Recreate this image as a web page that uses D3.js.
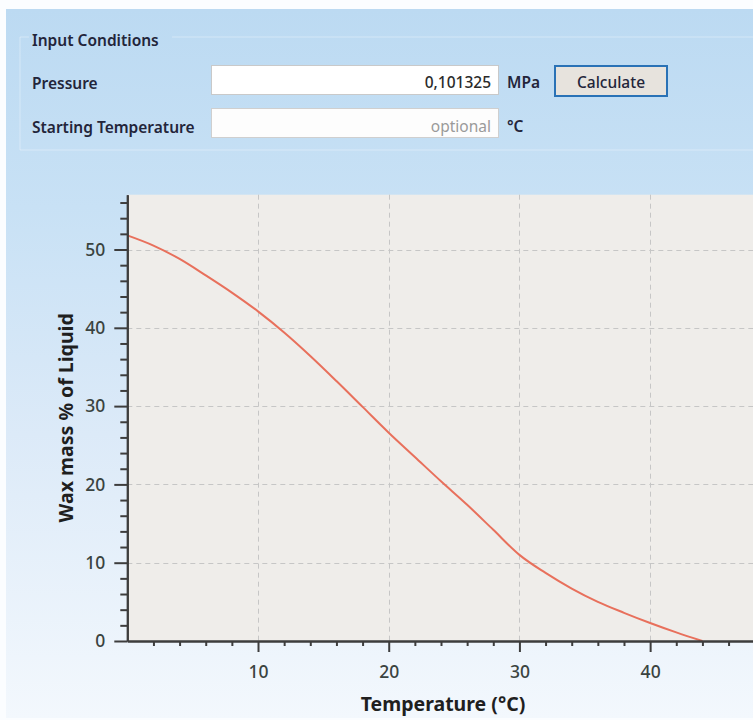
<!DOCTYPE html>
<html>
<head>
<meta charset="utf-8">
<script src="https://cdn.jsdelivr.net/npm/d3@7"></script>
<style>
  html, body { margin: 0; padding: 0; background: #ffffff; }
  svg { display: block; }
</style>
</head>
<body>
<svg id="chart" width="753" height="720"></svg>
<script>
// Wax precipitation curve: wax mass fraction of the liquid vs. temperature
const temperatures = [0, 2, 4, 6, 8, 10, 12, 14, 16, 18, 20, 22, 24, 26, 28, 30, 32, 34, 36, 38, 40, 42, 44];
const waxMass      = [51.8, 50.5, 48.8, 46.7, 44.5, 42.1, 39.4, 36.4, 33.2, 29.9, 26.6, 23.5, 20.4, 17.4, 14.2, 11.0, 8.7, 6.7, 5.0, 3.6, 2.3, 1.1, 0.0];
const xMajorTicks  = [10, 20, 30, 40];
const yMajorTicks  = [0, 10, 20, 30, 40, 50];
const xMinorTicks  = [2, 4, 6, 8, 12, 14, 16, 18, 22, 24, 26, 28, 32, 34, 36, 38, 42, 44, 46];
const yMinorTicks  = [2, 4, 6, 8, 12, 14, 16, 18, 22, 24, 26, 28, 32, 34, 36, 38, 42, 44, 46, 48, 52, 54, 56];

const xTitle = "Temperature (°C)";
const yTitle = "Wax mass % of Liquid";

const FONT = "'Noto Sans', 'Open Sans', sans-serif";
const svg = d3.select("#chart");
const defs = svg.append("defs");

// ---------- window background ----------
const bg = defs.append("linearGradient").attr("id", "winBg")
  .attr("x1", 0).attr("y1", 0).attr("x2", 0).attr("y2", 1);
[[0, "#bcdaf2"], [0.28, "#c8e1f5"], [0.6, "#dceaf8"], [1, "#f3f8fd"]].forEach(([o, c]) =>
  bg.append("stop").attr("offset", o).attr("stop-color", c));

svg.append("rect").attr("x", 0).attr("y", 0).attr("width", 753).attr("height", 720).attr("fill", "#fbfdff");
svg.append("rect").attr("x", 6).attr("y", 9).attr("width", 747).attr("height", 709).attr("fill", "url(#winBg)");

// ---------- input form ----------
const form = svg.append("g").attr("font-family", FONT);
const LABEL = "#23253a";

// group box outline
form.append("path")
  .attr("d", "M29,37 H20 V150 H760 M172,37 H760")
  .attr("fill", "none").attr("stroke", "rgba(255,255,255,0.35)").attr("stroke-width", 1);

function label(txt, xPos, yPos, opts = {}) {
  return form.append("text").attr("x", xPos).attr("y", yPos)
    .attr("font-size", opts.size || 15.5)
    .attr("font-weight", opts.weight || 600)
    .attr("fill", opts.fill || LABEL)
    .attr("text-anchor", opts.anchor || "start")
    .text(txt);
}

label("Input Conditions", 32, 46);
label("Pressure", 32, 89);
label("Starting Temperature", 32, 133);

// text boxes
form.append("rect").attr("x", 211.5).attr("y", 65.5).attr("width", 287).attr("height", 29)
  .attr("fill", "#ffffff").attr("stroke", "#c9c9c9");
form.append("rect").attr("x", 211.5).attr("y", 108.5).attr("width", 287).attr("height", 29)
  .attr("fill", "#fdfdfd").attr("stroke", "#cfcfcf");

label("0,101325", 491, 88, { anchor: "end", weight: 500, fill: "#2a2a2a" });
label("optional", 491, 132, { anchor: "end", weight: 400, fill: "#9a9a9a" });
label("MPa", 507, 88);
label("°C", 507, 132);

// button
form.append("rect").attr("x", 555).attr("y", 66).attr("width", 112).attr("height", 30)
  .attr("fill", "#e7e3dd").attr("stroke", "#2a72b6").attr("stroke-width", 2);
label("Calculate", 611, 88, { anchor: "middle", weight: 500 });

// ---------- chart ----------
const plot = { left: 127.3, top: 194.7, bottom: 641, right: 754.7 };

const x = d3.scaleLinear().domain([0, 48]).range([plot.left, plot.right]);
const y = d3.scaleLinear().domain([0, 57]).range([plot.bottom, plot.top]);

const chart = svg.append("g");

chart.append("rect")
  .attr("x", plot.left).attr("y", plot.top)
  .attr("width", plot.right - plot.left).attr("height", plot.bottom - plot.top)
  .attr("fill", "#efedea");

// dashed grid at major ticks
const grid = chart.append("g").attr("stroke", "#c6c6c6").attr("stroke-width", 1)
  .attr("stroke-dasharray", "5,4").attr("fill", "none");
grid.selectAll("line.vx").data(xMajorTicks).join("line")
  .attr("x1", d => Math.round(x(d)) + 0.5).attr("x2", d => Math.round(x(d)) + 0.5)
  .attr("y1", plot.top).attr("y2", plot.bottom);
grid.selectAll("line.hy").data(yMajorTicks.filter(d => d > 0)).join("line")
  .attr("x1", plot.left).attr("x2", plot.right)
  .attr("y1", d => Math.round(y(d)) + 0.5).attr("y2", d => Math.round(y(d)) + 0.5);

// curve
const line = d3.line()
  .x((d, i) => x(temperatures[i]))
  .y(d => y(d))
  .curve(d3.curveMonotoneX);
chart.append("path")
  .datum(waxMass)
  .attr("d", line)
  .attr("fill", "none")
  .attr("stroke", "#e8705c")
  .attr("stroke-width", 2);

// axes
const AXIS = "#3d3d3d";
function styleAxis(g) {
  g.select(".domain").attr("stroke", AXIS).attr("stroke-width", 2);
  g.selectAll(".tick line").attr("stroke", AXIS).attr("stroke-width", 2);
  g.selectAll(".tick text").attr("fill", "#3a4340")
    .attr("font-family", FONT).attr("font-size", 17.5).attr("font-weight", 500);
}

// minor ticks
chart.append("g")
  .attr("transform", `translate(0,${plot.bottom})`)
  .call(d3.axisBottom(x).tickValues(xMinorTicks).tickSize(5).tickSizeOuter(0).tickFormat(""))
  .call(styleAxis);
chart.append("g")
  .attr("transform", `translate(${plot.left},0)`)
  .call(d3.axisLeft(y).tickValues(yMinorTicks).tickSize(7).tickSizeOuter(0).tickFormat(""))
  .call(styleAxis);

// major ticks with labels
chart.append("g")
  .attr("transform", `translate(0,${plot.bottom})`)
  .call(d3.axisBottom(x).tickValues(xMajorTicks).tickSize(11).tickSizeOuter(0).tickPadding(14).tickFormat(d3.format("d")))
  .call(styleAxis);
chart.append("g")
  .attr("transform", `translate(${plot.left},0)`)
  .call(d3.axisLeft(y).tickValues(yMajorTicks).tickSize(13).tickSizeOuter(0).tickPadding(9).tickFormat(d3.format("d")))
  .call(styleAxis);

// axis titles
chart.append("text")
  .attr("x", 443).attr("y", 711)
  .attr("text-anchor", "middle")
  .attr("font-family", FONT).attr("font-size", 19.5).attr("font-weight", 700).attr("fill", "#1f1f1f")
  .text(xTitle);
chart.append("text")
  .attr("transform", `translate(73,${(plot.top + plot.bottom) / 2}) rotate(-90)`)
  .attr("text-anchor", "middle")
  .attr("font-family", FONT).attr("font-size", 19.5).attr("font-weight", 700).attr("fill", "#1f1f1f")
  .text(yTitle);
</script>
</body>
</html>
